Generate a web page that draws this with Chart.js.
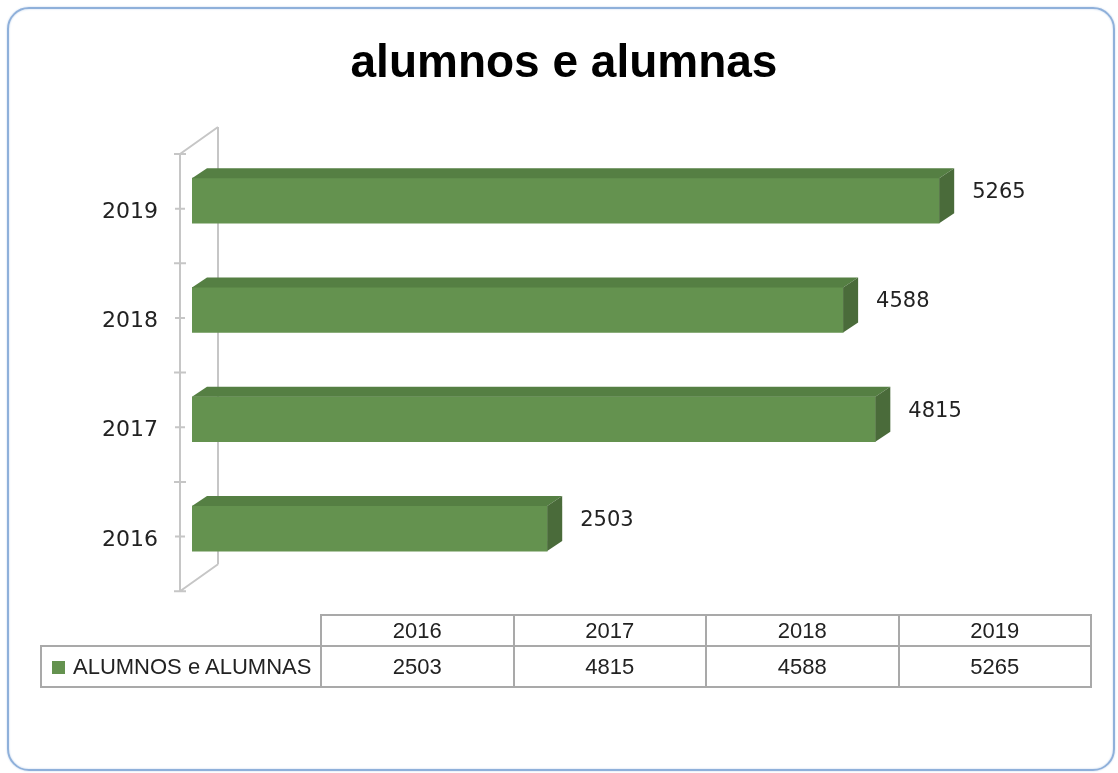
<!DOCTYPE html>
<html>
<head>
<meta charset="utf-8">
<script src="https://cdn.jsdelivr.net/npm/chart.js@4/dist/chart.umd.min.js"></script>
<style>
  html, body { margin: 0; padding: 0; background: #fff; }
  #wrap { position: relative; width: 1118px; height: 773px; overflow: hidden; }
  #frame {
    position: absolute; left: 7px; top: 7px; width: 1108px; height: 764px;
    box-sizing: border-box; border: 2px solid #8FB0DA; border-radius: 22px;
    box-shadow: 0 0 2px #B9CFEA, inset 0 0 2px #B9CFEA;
  }
  #title {
    position: absolute; left: 0; top: 38px; width: 1128px; text-align: center;
    font-family: "Liberation Sans", Arial, sans-serif; font-weight: bold;
    font-size: 46px; line-height: 46px; color: #000; white-space: nowrap;
  }
  #chart { position: absolute; left: 0; top: 0; }
  #dataTable {
    position: absolute; left: 40px; top: 614px; border-collapse: collapse;
    font-family: "Liberation Sans", Arial, sans-serif; font-size: 22px; color: #222;
    table-layout: fixed;
  }
  #dataTable td { border: 2px solid #A9A9A9; text-align: center; padding: 0; }
  #dataTable td.blank { border: none; }
  #dataTable td.legend { text-align: left; padding-left: 10px; white-space: nowrap; }
  #dataTable .swatch {
    display: inline-block; width: 13px; height: 13px; background: #64924F;
    margin-right: 8px; vertical-align: 0px;
  }
</style>
</head>
<body>
<div id="wrap">
  <div id="frame"></div>
  <canvas id="chart" width="1118" height="773"></canvas>
  <div id="title"></div>
  <table id="dataTable"></table>
</div>
<script>
'use strict';

// ─── Data ─────────────────────────────────────────────────────────────────────

const chartTitle = 'alumnos e alumnas';
const seriesName = 'ALUMNOS e ALUMNAS';
const years = ['2016', '2017', '2018', '2019'];
const students = [2503, 4815, 4588, 5265];

// ─── Look ─────────────────────────────────────────────────────────────────────

const FONT = '"DejaVu Sans", Arial, sans-serif';
const FRONT = '#64924F';
const TOP = '#557F43';
const SIDE = '#4A6B3A';
const WALL = '#C6C6C6';
const DEPTH = { dx: 15, dy: -10 };     // bar thickness in depth
const FRONT_AXIS = { dx: -12, dy: 8 }; // front edge of the floor/wall box
const BACK_AXIS = { dx: 26, dy: -19 }; // back wall

// walls and the front axis, drawn behind the bars
const wallsPlugin = {
  id: 'walls',
  beforeDatasetsDraw(chart) {
    const { ctx, chartArea: a, scales } = chart;
    const x0 = scales.x.getPixelForValue(0);
    const fx = x0 + FRONT_AXIS.dx;
    const bx = x0 + BACK_AXIS.dx;
    ctx.save();
    ctx.strokeStyle = WALL;
    ctx.lineWidth = 2;
    ctx.beginPath();
    // back wall
    ctx.moveTo(bx, a.top + BACK_AXIS.dy);
    ctx.lineTo(bx, a.bottom + BACK_AXIS.dy);
    // front axis
    ctx.moveTo(fx, a.top + FRONT_AXIS.dy);
    ctx.lineTo(fx, a.bottom + FRONT_AXIS.dy);
    // top and bottom diagonals
    ctx.moveTo(fx, a.top + FRONT_AXIS.dy);
    ctx.lineTo(bx, a.top + BACK_AXIS.dy);
    ctx.moveTo(fx, a.bottom + FRONT_AXIS.dy);
    ctx.lineTo(bx, a.bottom + BACK_AXIS.dy);
    // tick marks at category boundaries and centres
    const n = years.length;
    const step = (a.bottom - a.top) / n;
    for (let i = 0; i <= n; i++) {
      const y = a.top + i * step + FRONT_AXIS.dy;
      ctx.moveTo(fx - 6, y);
      ctx.lineTo(fx + 6, y);
      if (i < n) {
        ctx.moveTo(fx - 5, y + step / 2);
        ctx.lineTo(fx + 5, y + step / 2);
      }
    }
    ctx.stroke();
    ctx.restore();
  }
};

// top / side faces of each bar + value labels
const bar3dPlugin = {
  id: 'bar3d',
  afterDatasetsDraw(chart) {
    const { ctx } = chart;
    const meta = chart.getDatasetMeta(0);
    ctx.save();
    meta.data.forEach((bar, i) => {
      const { x, y, base, height } = bar.getProps(['x', 'y', 'base', 'height'], true);
      const top = y - height / 2;
      const bottom = y + height / 2;

      ctx.fillStyle = TOP;
      ctx.beginPath();
      ctx.moveTo(base, top);
      ctx.lineTo(base + DEPTH.dx, top + DEPTH.dy);
      ctx.lineTo(x + DEPTH.dx, top + DEPTH.dy);
      ctx.lineTo(x, top);
      ctx.closePath();
      ctx.fill();

      ctx.fillStyle = SIDE;
      ctx.beginPath();
      ctx.moveTo(x, top);
      ctx.lineTo(x + DEPTH.dx, top + DEPTH.dy);
      ctx.lineTo(x + DEPTH.dx, bottom + DEPTH.dy);
      ctx.lineTo(x, bottom);
      ctx.closePath();
      ctx.fill();

      ctx.fillStyle = '#222';
      ctx.font = `21px ${FONT}`;
      ctx.textAlign = 'left';
      ctx.textBaseline = 'middle';
      ctx.fillText(String(students[i]), x + 33, y - 8);
    });
    ctx.restore();
  }
};

document.getElementById('title').textContent = chartTitle;

new Chart(document.getElementById('chart'), {
  type: 'bar',
  data: {
    labels: years,
    datasets: [{
      label: seriesName,
      data: students,
      backgroundColor: FRONT,
      borderWidth: 0,
      barThickness: 45,
    }],
  },
  options: {
    indexAxis: 'y',
    responsive: false,
    animation: false,
    devicePixelRatio: 1,
    layout: { padding: { left: 0, right: 74.5, top: 146, bottom: 189.8 } },
    plugins: {
      legend: { display: false },
      tooltip: { enabled: false },
      title: { display: false },
    },
    scales: {
      x: { display: false, min: 0, max: 6000 },
      y: {
        reverse: true,
        grid: { display: false, drawTicks: false },
        border: { display: false },
        ticks: {
          color: '#222',
          font: { family: FONT, size: 22 },
          padding: 34,
          labelOffset: 11.5,
        },
        afterFit: (scale) => { scale.width = 192; },
      },
    },
  },
  plugins: [wallsPlugin, bar3dPlugin],
});

// ─── Data table under the chart ───────────────────────────────────────────────

function renderTable() {
  const table = document.getElementById('dataTable');
  const colgroup = `<colgroup><col style="width:280px">${years.map(() => '<col style="width:192.5px">').join('')}</colgroup>`;
  const head = `<tr style="height:31px"><td class="blank"></td>${years.map(y => `<td>${y}</td>`).join('')}</tr>`;
  const body = `<tr style="height:41px"><td class="legend"><span class="swatch"></span>${seriesName}</td>${students.map(v => `<td>${v}</td>`).join('')}</tr>`;
  table.innerHTML = colgroup + head + body;
}

renderTable();
</script>
</body>
</html>
